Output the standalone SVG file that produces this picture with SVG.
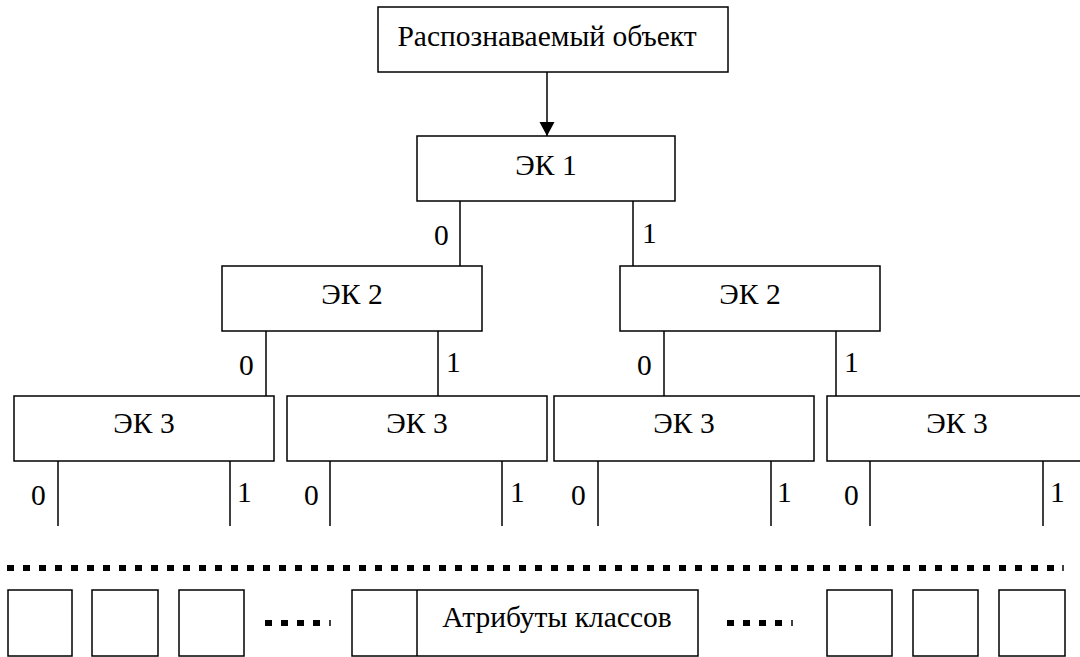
<svg xmlns="http://www.w3.org/2000/svg" width="1080" height="657" viewBox="0 0 1080 657">
<defs>
<style>
.box{fill:#fff;stroke:#000;stroke-width:1.5}
.ln{stroke:#000;stroke-width:1.5;fill:none}
.dot{stroke:#000;stroke-width:6;stroke-dasharray:7 9;fill:none}
.t{font-family:'Liberation Serif','Times New Roman',serif;font-size:29.5px;fill:#000}
.c{text-anchor:middle}
</style>
<marker id="arr" markerWidth="14" markerHeight="16" refX="14" refY="7.5" orient="auto" markerUnits="userSpaceOnUse">
<path d="M0,0 L14,7.5 L0,15 z" fill="#000"/>
</marker>
</defs>
<rect width="1080" height="657" fill="#fff"/>
<g id="connectors">
<line class="ln" x1="547" y1="72" x2="547" y2="136" marker-end="url(#arr)"/>
<line class="ln" x1="460" y1="201" x2="460" y2="266"/>
<line class="ln" x1="633" y1="201" x2="633" y2="266"/>
<line class="ln" x1="266" y1="331" x2="266" y2="396"/>
<line class="ln" x1="438" y1="331" x2="438" y2="396"/>
<line class="ln" x1="664" y1="331" x2="664" y2="396"/>
<line class="ln" x1="836" y1="331" x2="836" y2="396"/>
<line class="ln" x1="58" y1="461" x2="58" y2="526"/>
<line class="ln" x1="230" y1="461" x2="230" y2="526"/>
<line class="ln" x1="330" y1="461" x2="330" y2="526"/>
<line class="ln" x1="502" y1="461" x2="502" y2="526"/>
<line class="ln" x1="598" y1="461" x2="598" y2="526"/>
<line class="ln" x1="771" y1="461" x2="771" y2="526"/>
<line class="ln" x1="870" y1="461" x2="870" y2="526"/>
<line class="ln" x1="1043" y1="461" x2="1043" y2="526"/>
<text class="t" x="434" y="245">0</text>
<text class="t" x="642" y="243">1</text>
<text class="t" x="239" y="375">0</text>
<text class="t" x="446" y="372">1</text>
<text class="t" x="637" y="375">0</text>
<text class="t" x="844" y="372">1</text>
<text class="t" x="31" y="505">0</text>
<text class="t" x="237" y="502">1</text>
<text class="t" x="304" y="505">0</text>
<text class="t" x="510" y="502">1</text>
<text class="t" x="571" y="505">0</text>
<text class="t" x="777" y="502">1</text>
<text class="t" x="844" y="505">0</text>
<text class="t" x="1050" y="502">1</text>
</g>
<g id="object">
<rect class="box" x="378" y="7" width="350" height="65"/>
<text class="t c" x="547" y="46">Распознаваемый объект</text>
</g>
<g id="ek1">
<rect class="box" x="417" y="136" width="258" height="65"/>
<text class="t c" x="546" y="175">ЭК 1</text>
</g>
<g id="ek2-left">
<rect class="box" x="222" y="266" width="260" height="65"/>
<text class="t c" x="352" y="304">ЭК 2</text>
</g>
<g id="ek2-right">
<rect class="box" x="620" y="266" width="260" height="65"/>
<text class="t c" x="750" y="304">ЭК 2</text>
</g>
<g id="ek3-1">
<rect class="box" x="14" y="396" width="260" height="65"/>
<text class="t c" x="144" y="433">ЭК 3</text>
</g>
<g id="ek3-2">
<rect class="box" x="287" y="396" width="260" height="65"/>
<text class="t c" x="417" y="433">ЭК 3</text>
</g>
<g id="ek3-3">
<rect class="box" x="554" y="396" width="260" height="65"/>
<text class="t c" x="684" y="433">ЭК 3</text>
</g>
<g id="ek3-4">
<rect class="box" x="827" y="396" width="260" height="65"/>
<text class="t c" x="957" y="433">ЭК 3</text>
</g>
<g id="dots">
<line class="dot" x1="7" y1="568" x2="1062" y2="568"/>
<line class="ln" x1="1063" y1="565" x2="1063" y2="571"/>
<line class="dot" x1="265" y1="623" x2="329" y2="623"/>
<line class="ln" x1="330" y1="620" x2="330" y2="626"/>
<line class="dot" x1="727" y1="623" x2="791" y2="623"/>
<line class="ln" x1="792" y1="620" x2="792" y2="626"/>
</g>
<g id="classes">
<rect class="box" x="8" y="590" width="64" height="66"/>
<rect class="box" x="92" y="590" width="66" height="66"/>
<rect class="box" x="179" y="590" width="65" height="66"/>
<rect class="box" x="352" y="590" width="346" height="66"/>
<line class="ln" x1="417" y1="590" x2="417" y2="656"/>
<text class="t c" x="557" y="627">Атрибуты классов</text>
<rect class="box" x="827" y="590" width="65" height="66"/>
<rect class="box" x="913" y="590" width="65" height="66"/>
<rect class="box" x="999" y="590" width="66" height="66"/>
</g>
</svg>
